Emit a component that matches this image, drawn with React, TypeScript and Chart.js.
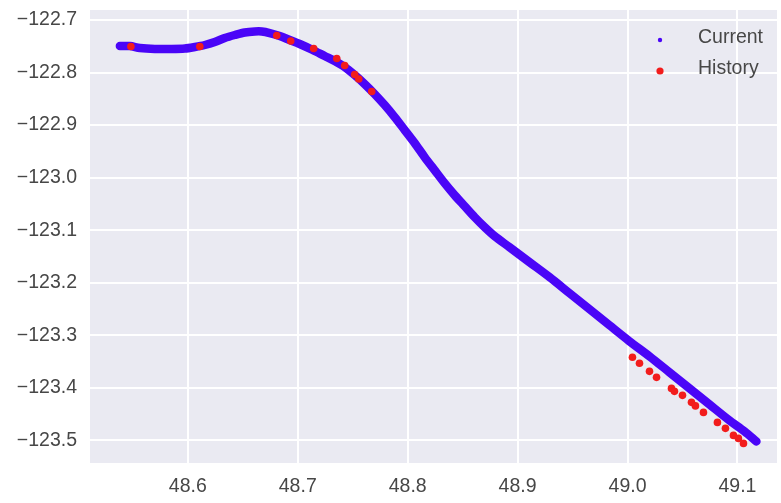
import React, { useEffect, useRef } from 'react';
import { Chart, registerables } from 'chart.js';

Chart.register(...registerables);

// "Current" track (x = longitude-like axis value, y = value)
const currentX = [
  48.5382, 48.5473, 48.5564, 48.57, 48.5836, 48.5973, 48.6064, 48.6155, 48.6245, 48.6336,
  48.6427, 48.6518, 48.6609, 48.6673, 48.6745, 48.6836, 48.6927, 48.7018, 48.7136, 48.7245,
  48.7336, 48.7427, 48.7518, 48.7609, 48.77, 48.7791, 48.7882, 48.7973, 48.8064, 48.8155,
  48.8245, 48.8336, 48.8427, 48.8518, 48.8609, 48.87, 48.8791, 48.8927, 48.9109, 48.9291,
  48.9473, 48.9655, 48.9836, 49.0018, 49.02, 49.0382, 49.0564, 49.0745, 49.0927, 49.1064,
  49.1173,
];
const currentY = [
  -122.7495, -122.7495, -122.7533, -122.7552, -122.7552, -122.7543, -122.7514, -122.7476, -122.7419, -122.7343,
  -122.7286, -122.7238, -122.7219, -122.7219, -122.7248, -122.7305, -122.7381, -122.7457, -122.7571, -122.7686,
  -122.7781, -122.7895, -122.8048, -122.8219, -122.841, -122.8619, -122.8848, -122.9095, -122.9343, -122.961,
  -122.9857, -123.0105, -123.0333, -123.0543, -123.0752, -123.0943, -123.1114, -123.1324, -123.161, -123.1895,
  -123.22, -123.2505, -123.281, -123.3114, -123.34, -123.3705, -123.401, -123.4314, -123.4619, -123.4829,
  -123.5019,
];

// "History" points
const historyX = [
  48.5482, 48.6109, 48.6809, 48.6936, 48.7145, 48.7355, 48.7427, 48.7518, 48.7555, 48.7673,
  49.0045, 49.0109, 49.02, 49.0264, 49.04, 49.0427, 49.05, 49.0582, 49.0618, 49.0691,
  49.0818, 49.0891, 49.0964, 49.1009, 49.1055,
];
const historyY = [
  -122.7505, -122.7505, -122.7295, -122.74, -122.7543, -122.7733, -122.7867, -122.8038, -122.8124, -122.8362,
  -123.3419, -123.3533, -123.3686, -123.38, -123.401, -123.4067, -123.4143, -123.4276, -123.4343, -123.4467,
  -123.4657, -123.4771, -123.4905, -123.4962, -123.5057,
];

const xTicks = [48.6, 48.7, 48.8, 48.9, 49.0, 49.1];
const yTicks = [-122.7, -122.8, -122.9, -123.0, -123.1, -123.2, -123.3, -123.4, -123.5];
const seriesLabels = ['Current', 'History'];
const seriesColors = ['#4a05f7', '#f21c1c'];

const FONT = '"Liberation Sans", Arial, sans-serif';
const TEXT_COLOR = '#474747';
const PLOT_BG = '#EAEAF2';

const fmt = (v: number) => (v < 0 ? '\u2212' : '') + Math.abs(v).toFixed(1);

const bgPlugin = {
  id: 'plotBg',
  beforeDraw(chart: any) {
    const { ctx, chartArea } = chart;
    ctx.save();
    ctx.fillStyle = PLOT_BG;
    ctx.fillRect(chartArea.left, chartArea.top, chartArea.right - chartArea.left, chartArea.bottom - chartArea.top);
    ctx.restore();
  },
};

const legendPlugin = {
  id: 'insideLegend',
  afterDatasetsDraw(chart: any) {
    const { ctx, chartArea } = chart;
    const radii = [2.2, 3.6];
    ctx.save();
    seriesLabels.forEach((label, i) => {
      const y = chartArea.top + 30 + i * 31;
      const mx = chartArea.right - 117;
      ctx.beginPath();
      ctx.fillStyle = seriesColors[i];
      ctx.arc(mx, y, radii[i], 0, Math.PI * 2);
      ctx.fill();
      ctx.fillStyle = TEXT_COLOR;
      ctx.font = '19.5px ' + FONT;
      ctx.textAlign = 'left';
      ctx.textBaseline = 'middle';
      ctx.fillText(label, chartArea.right - 79, y - 2);
    });
    ctx.restore();
  },
};

export default function App() {
  const ref = useRef<HTMLCanvasElement | null>(null);

  useEffect(() => {
    if (!ref.current) return;
    const chart = new Chart(ref.current, {
      type: 'scatter',
      data: {
        datasets: [
          {
            label: seriesLabels[0],
            data: currentX.map((x, i) => ({ x, y: currentY[i] })),
            showLine: true,
            borderColor: seriesColors[0],
            backgroundColor: seriesColors[0],
            borderWidth: 8.5,
            borderCapStyle: 'round',
            borderJoinStyle: 'round',
            tension: 0.3,
            pointRadius: 0,
            order: 1,
          },
          {
            label: seriesLabels[1],
            data: historyX.map((x, i) => ({ x, y: historyY[i] })),
            showLine: false,
            backgroundColor: seriesColors[1],
            borderColor: seriesColors[1],
            borderWidth: 0,
            pointRadius: 3.8,
            order: 0,
          },
        ],
      },
      options: {
        animation: false,
        responsive: false,
        layout: { padding: { top: 10, right: 1, left: 0, bottom: 0 } },
        plugins: {
          legend: { display: false },
          tooltip: { enabled: false },
        },
        scales: {
          x: {
            type: 'linear',
            min: 48.511,
            max: 49.136,
            border: { display: false },
            grid: { color: '#ffffff', lineWidth: 2, drawTicks: false },
            ticks: {
              padding: 12,
              color: TEXT_COLOR,
              font: { family: FONT, size: 19.5 },
              callback: (v: any) => fmt(Number(v)),
            },
            afterBuildTicks: (scale: any) => {
              scale.ticks = xTicks.map((v) => ({ value: v }));
            },
            afterFit: (scale: any) => {
              scale.height = 40;
              scale.paddingLeft = 0;
              scale.paddingRight = 0;
            },
          },
          y: {
            type: 'linear',
            min: -123.543,
            max: -122.681,
            border: { display: false },
            grid: { color: '#ffffff', lineWidth: 2, drawTicks: false },
            ticks: {
              padding: 13,
              color: TEXT_COLOR,
              font: { family: FONT, size: 19.5 },
              callback: (v: any) => fmt(Number(v)),
            },
            afterBuildTicks: (scale: any) => {
              scale.ticks = yTicks.map((v) => ({ value: v }));
            },
            afterFit: (scale: any) => {
              scale.width = 90;
              scale.paddingTop = 0;
              scale.paddingBottom = 0;
            },
          },
        },
      },
      plugins: [bgPlugin, legendPlugin],
    } as any);
    return () => chart.destroy();
  }, []);

  return (
    <div style={{ position: 'fixed', left: 0, top: 0, width: 781, height: 503, background: '#fff' }}>
      <canvas ref={ref} width={781} height={503} style={{ display: 'block' }} />
    </div>
  );
}
